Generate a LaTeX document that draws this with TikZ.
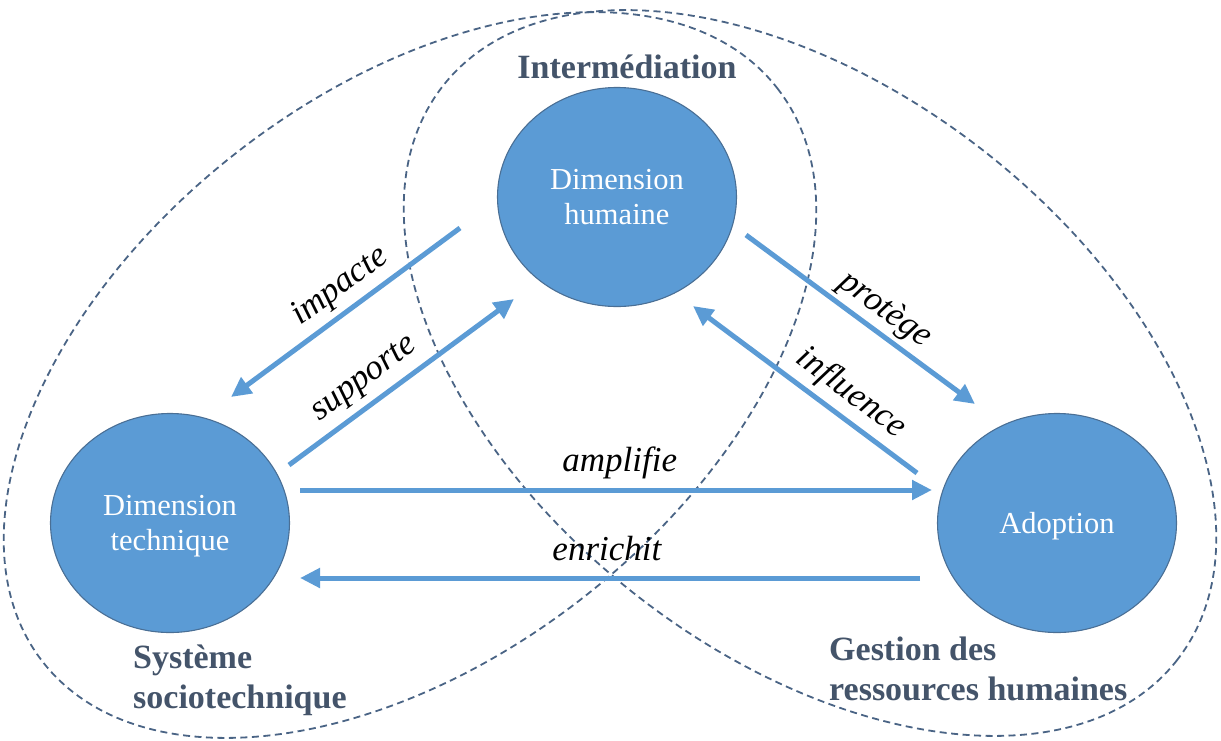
\documentclass[tikz,border=0pt]{standalone}
\usepackage{fontspec}
\setmainfont{Liberation Serif}
\usetikzlibrary{arrows.meta,shapes.geometric,calc}
\definecolor{blueA}{HTML}{5B9BD5}
\definecolor{blueB}{HTML}{4A6F95}
\definecolor{slate}{HTML}{44546A}
\definecolor{dashcol}{HTML}{4A6485}
\begin{document}
\begin{tikzpicture}[x=1pt,y=-1pt,
  dim/.style={ellipse, fill=blueA, draw=blueB, line width=1.1pt, minimum width=239pt, minimum height=219pt, inner sep=0pt, text=white, align=center, text depth=0pt, font=\fontsize{30.5}{35}\selectfont},
  zone/.style={draw=dashcol, line width=1.8pt, dash pattern=on 7pt off 4.5pt},
  ttl/.style={text=slate, font=\fontsize{34}{40}\selectfont\bfseries, inner sep=0pt},
  conn/.style={draw=blueA, line width=5pt, -{Triangle[length=20pt,width=19pt]}},
  lab/.style={font=\fontsize{35}{40}\selectfont\itshape, inner sep=6pt}
]
\useasboundingbox (0,0) rectangle (1221,740);
% zones
\draw[zone, rotate around={38:(410,375)}] (410,375) ellipse [x radius=466, y radius=282];
\draw[zone, rotate around={-38:(810,373)}] (810,373) ellipse [x radius=466, y radius=282];
% dimensions
\node[dim] (hum) at (617,197) {Dimension\\humaine};
\node[dim] (tech) at (170,523) {Dimension\\technique};
\node[dim] (adop) at (1057,523) {Adoption};
% titles
\node[ttl, anchor=base] (tint) at (627,78) {Intermédiation};
\node[ttl, anchor=base west, align=left] (tsoc) at (133,708) {Système\\sociotechnique};
\node[ttl, anchor=base west, align=left] (tgrh) at (829,700) {Gestion des\\ressources humaines};
% connector ends
\coordinate (i1) at (460,228); \coordinate (i2) at (231,397);
\coordinate (s1) at (289,465); \coordinate (s2) at (514,299);
\coordinate (p1) at (746,235); \coordinate (p2) at (975,404);
\coordinate (f1) at (917,473); \coordinate (f2) at (693,306);
\coordinate (a1) at (300,490); \coordinate (a2) at (932,490);
\coordinate (e1) at (920,578); \coordinate (e2) at (300,578);
% connectors
\draw[conn] (i1) -- node[lab, sloped, above, pos=0.46] (li) {impacte} (i2);
\draw[conn] (s1) -- node[lab, sloped, above, pos=0.40, inner sep=7pt] (ls) {supporte} (s2);
\draw[conn] (p1) -- node[lab, sloped, above, pos=0.55, inner sep=4pt] (lp) {protège} (p2);
\draw[conn] (f1) -- node[lab, sloped, above, pos=0.36] (lf) {influence} (f2);
\draw[conn] (a1) -- node[lab, above, pos=0.506, inner sep=9pt] (la) {amplifie} (a2);
\draw[conn] (e1) -- node[lab, above, pos=0.505, inner sep=15pt] (le) {enrichit} (e2);
\end{tikzpicture}
\end{document}
